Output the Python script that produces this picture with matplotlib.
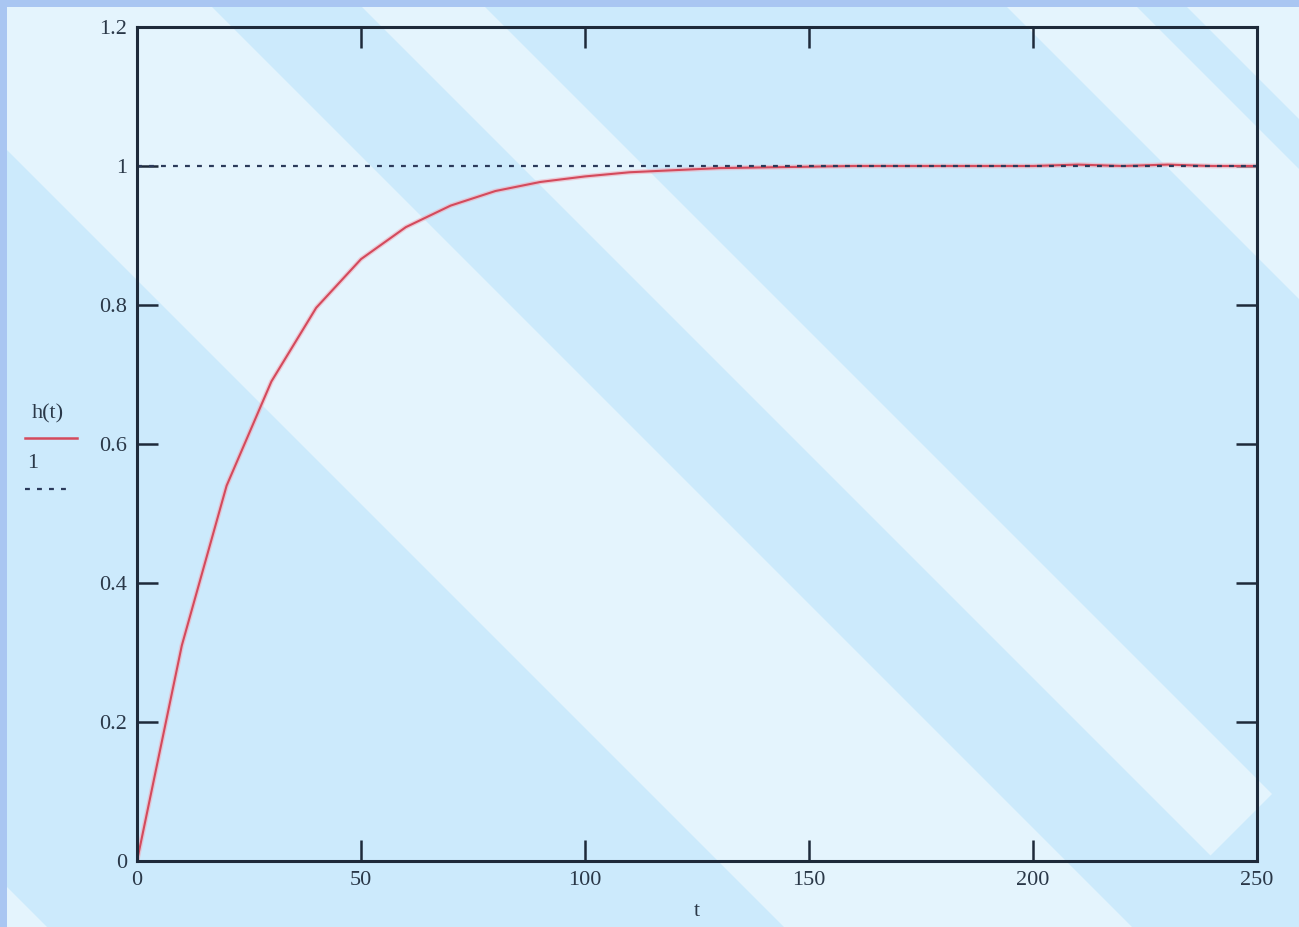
import matplotlib.pyplot as plt
from matplotlib.patches import Polygon, Rectangle

# step response h(t), sampled every 10 s
t = [0, 10, 20, 30, 40, 50, 60, 70, 80, 90, 100, 110, 120, 130, 140, 150,
     160, 170, 180, 190, 200, 210, 220, 230, 240, 250]
h = [0.0, 0.31, 0.54, 0.69, 0.796, 0.866, 0.912, 0.943, 0.964, 0.977, 0.985,
     0.991, 0.994, 0.997, 0.998, 0.999, 1.0, 1.0, 1.0, 1.0, 1.0, 1.002, 1.0,
     1.002, 1.0, 1.0]
ref_level = 1

x_ticks = [0, 50, 100, 150, 200, 250]
y_ticks = [0, 0.2, 0.4, 0.6, 0.8, 1, 1.2]
y_tick_labels = ['0', '0.2', '0.4', '0.6', '0.8', '1', '1.2']

W, H = 1299, 927
BASE = '#cceafc'
LIGHT = '#e4f4fd'
TXT = '#2a3848'
SERIF = 'Liberation Serif'

fig = plt.figure(figsize=(W / 100, H / 100), dpi=100)
fig.patch.set_facecolor(BASE)

# background with diagonal light stripes (pixel coordinates)
bg = fig.add_axes([0, 0, 1, 1])
bg.set_xlim(0, W)
bg.set_ylim(H, 0)
bg.axis('off')
bg.set_facecolor(BASE)


def stripe(x0a, x0b, cap=None):
    # band between lines x = x0 + y, optionally cut off along x + y = cap
    if cap is None:
        pts = [(x0a, 0), (x0b, 0), (x0b + 2 * H, 2 * H), (x0a + 2 * H, 2 * H)]
    else:
        ya = (cap - x0a) / 2
        yb = (cap - x0b) / 2
        pts = [(x0a, 0), (x0b, 0), (x0b + yb, yb), (x0a + ya, ya)]
    bg.add_patch(Polygon(pts, closed=True, facecolor=LIGHT, edgecolor='none'))


stripe(-2000, -880)
stripe(-143, 205)
stripe(355, 478, cap=2066)
stripe(1000, 1130)
stripe(1180, 1600)

# dotted frame on top and left
bg.add_patch(Rectangle((0, 0), W, 7, facecolor='#a9c6f2', edgecolor='none'))
bg.add_patch(Rectangle((0, 0), 7, H, facecolor='#a9c6f2', edgecolor='none'))

ax = fig.add_axes([137 / W, (H - 861) / H, (1257 - 137) / W, (861 - 27) / H])
ax.patch.set_alpha(0)

ax.plot(t, h, color='#f2a9b6', linewidth=3.4, alpha=0.55, solid_joinstyle='round')
ax.plot(t, h, color='#d44a5c', linewidth=1.5, label='h(t)')
ax.axhline(ref_level, color='#2b3a5a', linewidth=1.6, linestyle=(0, (2.2, 3.2)))

ax.set_xlim(0, 250)
ax.set_ylim(0, 1.2)
ax.set_xticks(x_ticks)
ax.set_yticks(y_ticks)
ax.set_yticklabels(y_tick_labels)
ax.tick_params(direction='in', length=15, width=1.8, color='#1e2a3a',
               top=True, right=True, labelsize=16, labelcolor=TXT, pad=7)
for lbl in ax.get_xticklabels() + ax.get_yticklabels():
    lbl.set_family(SERIF)
for s in ax.spines.values():
    s.set_linewidth(2.2)
    s.set_color('#1e2a3a')

ax.set_xlabel('t', family=SERIF, fontsize=16, color=TXT, labelpad=9)

# legend at the left, Mathcad style
bg.text(48, 414, 'h(t)', family=SERIF, fontsize=16, color=TXT,
        ha='center', va='center')
bg.plot([25, 77], [438, 438], color='#d44a5c', linewidth=1.8)
bg.text(33, 463, '1', family=SERIF, fontsize=16, color=TXT,
        ha='center', va='center')
bg.plot([25, 68], [489, 489], color='#2b3a5a', linewidth=1.6,
        linestyle=(0, (2.2, 3.2)))

fig.savefig('out.png', dpi=100, facecolor=fig.get_facecolor())
